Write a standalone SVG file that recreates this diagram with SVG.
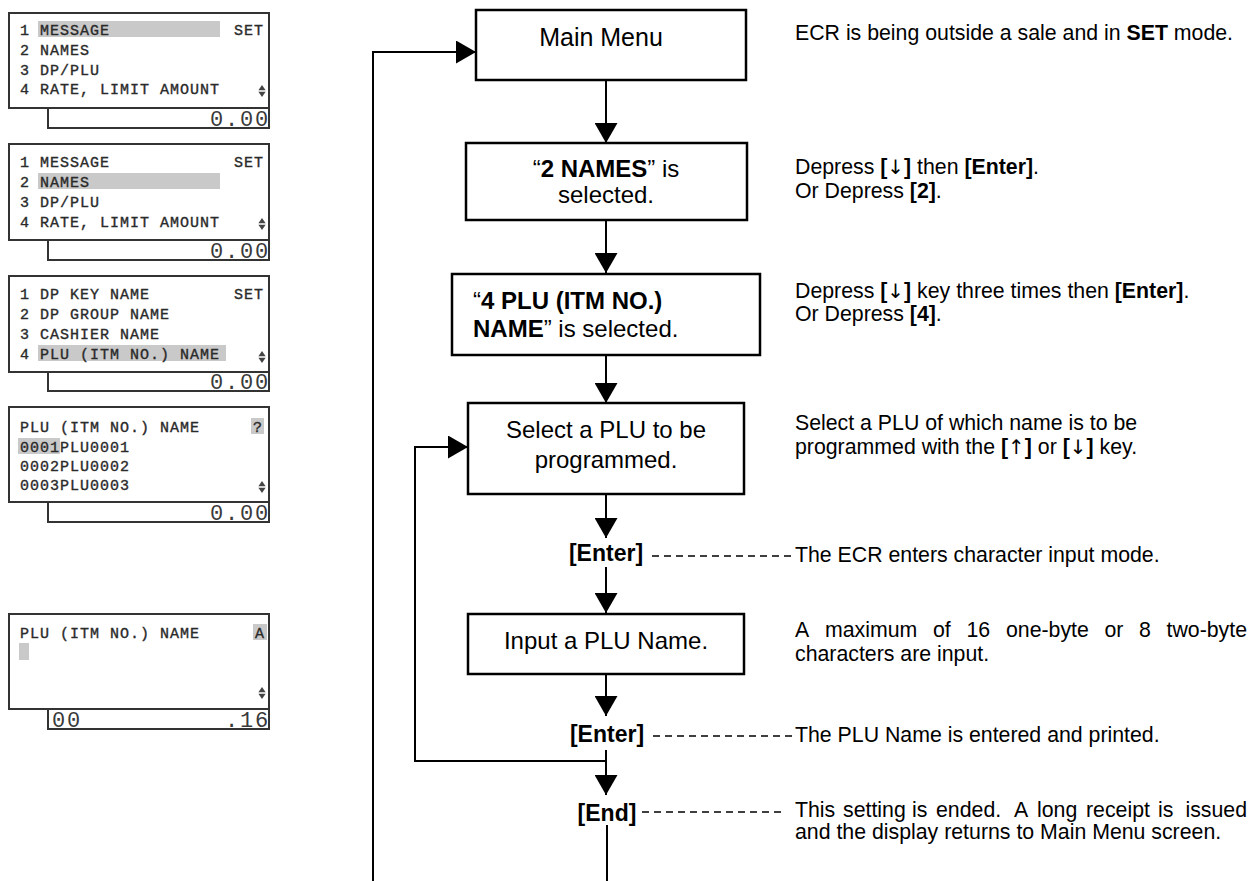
<svg xmlns="http://www.w3.org/2000/svg" width="1259" height="881" viewBox="0 0 1259 881">
<defs>
<style>
.lcd{fill:#fff;stroke:#333;stroke-width:2}
.sub{fill:none;stroke:#333;stroke-width:2}
.lt{font-family:"Liberation Mono",monospace;font-size:15px;letter-spacing:1px;fill:#2a2a2a;stroke:#2a2a2a;stroke-width:0.35}
.big{font-family:"Liberation Mono",monospace;font-size:22px;letter-spacing:1.8px;fill:#3a3a3a}
.hl{fill:#c9c9c9}
.ind{fill:#444}
.box{fill:#fff;stroke:#000;stroke-width:2.5}
.bt{font-family:"Liberation Sans",Arial,sans-serif;font-size:24px;fill:#000}
.kt{font-family:"Liberation Sans",Arial,sans-serif;font-size:23px;font-weight:bold;fill:#000;text-anchor:middle}
.rt{font-family:"Liberation Sans",Arial,sans-serif;font-size:21.3px;fill:#000}
.b{font-weight:bold}
.arw{font-family:"DejaVu Sans",sans-serif;font-size:20px;font-weight:normal}
.mid{text-anchor:middle}
.ln{fill:none;stroke:#000;stroke-width:2}
.ar{marker-end:url(#ah)}
.dash{fill:none;stroke:#000;stroke-width:1.5;stroke-dasharray:7 5}
</style>
<marker id="ah" viewBox="0 0 20 23" refX="20" refY="11.5" markerWidth="20" markerHeight="23" markerUnits="userSpaceOnUse" orient="auto">
<path d="M0,0 L20,11.5 L0,23 Z" fill="#000"/>
</marker>
<g id="updown"><polygon points="0,-6 -3.6,-0.8 3.6,-0.8"/><polygon points="-3.6,0.8 3.6,0.8 0,6"/></g>
</defs>
<rect width="1259" height="881" fill="#fff"/>

<!-- LCD panels -->
<g id="lcd1">
<rect class="lcd" x="9" y="13" width="260" height="95"/>
<path class="sub" d="M48,108 V128 H269 V108"/>
<rect class="hl" x="38" y="21" width="182" height="16"/>
<text class="lt" x="20" y="35">1 MESSAGE</text>
<text class="lt" x="234" y="35">SET</text>
<text class="lt" x="20" y="55">2 NAMES</text>
<text class="lt" x="20" y="75">3 DP/PLU</text>
<text class="lt" x="20" y="94">4 RATE, LIMIT AMOUNT</text>
<use href="#updown" class="ind" x="262" y="91"/>
<text class="big" x="270" y="126" text-anchor="end">0.00</text>
</g>
<g id="lcd2">
<rect class="lcd" x="9" y="144" width="260" height="96"/>
<path class="sub" d="M48,240 V260 H269 V240"/>
<rect class="hl" x="38" y="173" width="182" height="16"/>
<text class="lt" x="20" y="167">1 MESSAGE</text>
<text class="lt" x="234" y="167">SET</text>
<text class="lt" x="20" y="187">2 NAMES</text>
<text class="lt" x="20" y="207">3 DP/PLU</text>
<text class="lt" x="20" y="227">4 RATE, LIMIT AMOUNT</text>
<use href="#updown" class="ind" x="262" y="224"/>
<text class="big" x="270" y="258" text-anchor="end">0.00</text>
</g>
<g id="lcd3">
<rect class="lcd" x="9" y="276" width="260" height="96"/>
<path class="sub" d="M48,372 V391 H269 V372"/>
<rect class="hl" x="38" y="345" width="188" height="16"/>
<text class="lt" x="20" y="299">1 DP KEY NAME</text>
<text class="lt" x="234" y="299">SET</text>
<text class="lt" x="20" y="319">2 DP GROUP NAME</text>
<text class="lt" x="20" y="339">3 CASHIER NAME</text>
<text class="lt" x="20" y="359">4 PLU (ITM NO.) NAME</text>
<use href="#updown" class="ind" x="262" y="357"/>
<text class="big" x="270" y="389" text-anchor="end">0.00</text>
</g>
<g id="lcd4">
<rect class="lcd" x="9" y="407" width="260" height="95"/>
<path class="sub" d="M48,502 V522 H269 V502"/>
<rect class="hl" x="251" y="418" width="13" height="16"/>
<rect class="hl" x="18" y="438" width="42" height="16"/>
<text class="lt" x="20" y="432">PLU (ITM NO.) NAME</text>
<text class="lt" x="253" y="432">?</text>
<text class="lt" x="20" y="452">0001PLU0001</text>
<text class="lt" x="20" y="471">0002PLU0002</text>
<text class="lt" x="20" y="490">0003PLU0003</text>
<use href="#updown" class="ind" x="262" y="487"/>
<text class="big" x="270" y="520" text-anchor="end">0.00</text>
</g>
<g id="lcd5">
<rect class="lcd" x="9" y="614" width="260" height="95"/>
<path class="sub" d="M48,709 V729 H269 V709"/>
<rect class="hl" x="253" y="624" width="14" height="16"/>
<rect class="hl" x="19" y="643" width="10" height="17"/>
<text class="lt" x="20" y="638">PLU (ITM NO.) NAME</text>
<text class="lt" x="255" y="638">A</text>
<use href="#updown" class="ind" x="262" y="693"/>
<text class="big" x="52" y="727">00</text>
<text class="big" x="270" y="727" text-anchor="end">.16</text>
</g>

<!-- connectors -->
<g id="connectors">
<path class="ln ar" d="M373,881 V52 H476"/>
<path class="ln ar" d="M606,80 V143"/>
<path class="ln ar" d="M606,220 V273"/>
<path class="ln ar" d="M606,355 V403"/>
<path class="ln ar" d="M606,494 V538"/>
<path class="ln ar" d="M606,567 V613"/>
<path class="ln ar" d="M606,674 V716"/>
<path class="ln ar" d="M606,750 V795"/>
<path class="ln ar" d="M606,761 H415 V447 H468"/>
<path class="ln" d="M607,825 V881"/>
<path class="dash" d="M652,556 H793"/>
<path class="dash" d="M653,736 H793"/>
<path class="dash" d="M642,812 H786"/>
</g>

<!-- flow nodes -->
<g id="main-menu">
<rect class="box" x="476" y="10" width="270" height="70"/>
<text class="bt mid" x="601" y="46" style="font-size:25px">Main Menu</text>
</g>
<g id="names-selected">
<rect class="box" x="466" y="143" width="281" height="77"/>
<text class="bt mid" x="606" y="177">“<tspan class="b">2 NAMES</tspan>” is</text>
<text class="bt mid" x="606" y="203">selected.</text>
</g>
<g id="plu-name-selected">
<rect class="box" x="452" y="274" width="308" height="81"/>
<text class="bt" x="473" y="309">“<tspan class="b">4 PLU (ITM NO.)</tspan></text>
<text class="bt" x="473" y="337"><tspan class="b">NAME</tspan>” is selected.</text>
</g>
<g id="select-plu">
<rect class="box" x="468" y="403" width="276" height="91"/>
<text class="bt mid" x="606" y="438">Select a PLU to be</text>
<text class="bt mid" x="606" y="468">programmed.</text>
</g>
<g id="enter1"><text class="kt" x="606" y="561">[Enter]</text></g>
<g id="input-name">
<rect class="box" x="468" y="614" width="276" height="60"/>
<text class="bt mid" x="606" y="649">Input a PLU Name.</text>
</g>
<g id="enter2"><text class="kt" x="607" y="742">[Enter]</text></g>
<g id="end"><text class="kt" x="607" y="821">[End]</text></g>

<!-- descriptions -->
<g id="notes">
<text class="rt" x="795" y="40">ECR is being outside a sale and in <tspan class="b">SET</tspan> mode.</text>
<text class="rt" x="795" y="174">Depress <tspan class="b">[<tspan class="arw">↓</tspan>]</tspan> then <tspan class="b">[Enter]</tspan>.</text>
<text class="rt" x="795" y="198">Or Depress <tspan class="b">[2]</tspan>.</text>
<text class="rt" x="795" y="298">Depress <tspan class="b">[<tspan class="arw">↓</tspan>]</tspan> key three times then <tspan class="b">[Enter]</tspan>.</text>
<text class="rt" x="795" y="321">Or Depress <tspan class="b">[4]</tspan>.</text>
<text class="rt" x="795" y="430">Select a PLU of which name is to be</text>
<text class="rt" x="795" y="454">programmed with the <tspan class="b">[<tspan class="arw">↑</tspan>]</tspan> or <tspan class="b">[<tspan class="arw">↓</tspan>]</tspan> key.</text>
<text class="rt" x="795" y="562">The ECR enters character input mode.</text>
<text class="rt" y="637"><tspan x="795">A</tspan><tspan x="825">maximum</tspan><tspan x="933">of</tspan><tspan x="966.5">16</tspan><tspan x="1006">one-byte</tspan><tspan x="1104.5">or</tspan><tspan x="1139">8</tspan><tspan x="1166.5">two-byte</tspan></text>
<text class="rt" x="795" y="661">characters are input.</text>
<text class="rt" x="795" y="742">The PLU Name is entered and printed.</text>
<text class="rt" y="817"><tspan x="795">This</tspan><tspan x="843">setting</tspan><tspan x="912">is</tspan><tspan x="936">ended.</tspan><tspan x="1014">A</tspan><tspan x="1037">long</tspan><tspan x="1086">receipt</tspan><tspan x="1158">is</tspan><tspan x="1247" text-anchor="end">issued</tspan></text>
<text class="rt" x="795" y="839">and the display returns to Main Menu screen.</text>
</g>
</svg>
